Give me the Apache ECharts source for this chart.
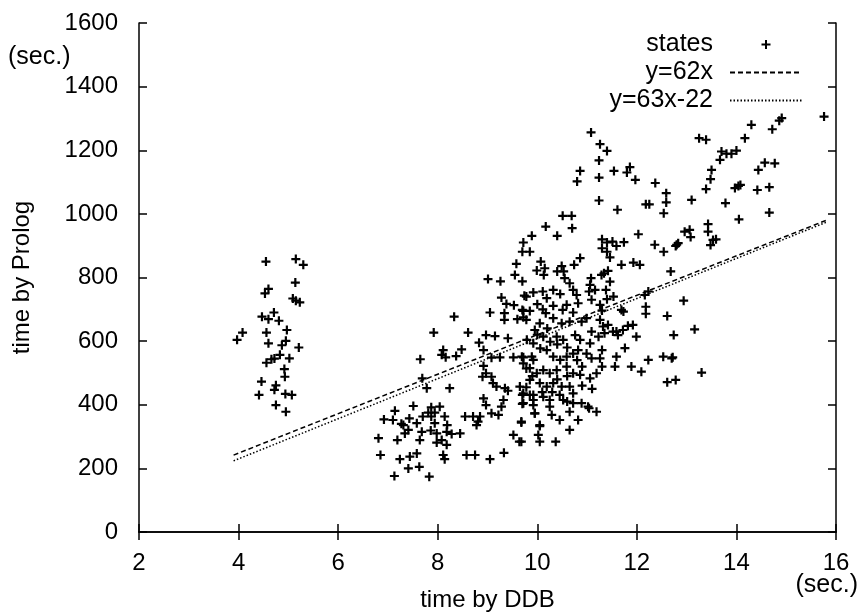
<!DOCTYPE html>
<html><head><meta charset="utf-8">
<script src="https://cdn.jsdelivr.net/npm/echarts@6/dist/echarts.min.js"></script>
<style>html,body{margin:0;padding:0;background:#fff}#c{width:860px;height:612px}</style>
</head><body><div id="c"></div><script>
// time by DDB (sec.) / time by Prolog (sec.) for each state
const ddbTime = [
4.55,5.15,5.30,5.14,4.60,4.53,5.09,5.15,5.23,4.47,4.60,4.71,4.81,4.97,4.56,4.08,3.97,4.60,4.87,4.95,5.21,4.56,4.66,4.72,4.83,5.02,4.92,4.93,4.46,4.75,4.72,4.41,4.94,5.07,4.75,4.95,
9.89,9.72,9.70,9.85,9.58,9.55,9.70,9.01,9.26,9.28,9.38,9.53,9.74,9.92,9.72,9.85,9.05,9.34,9.34,9.60,9.78,8.33,7.92,8.61,8.97,9.15,9.41,8.83,8.92,8.11,8.08,8.16,8.37,8.48,7.65,9.08,9.25,9.52,9.72,9.78,9.92,8.92,8.97,8.90,9.08,9.11,9.18,9.35,9.41,7.69,7.78,8.24,9.65,9.78,9.85,9.70,9.92,8.92,8.97,9.08,9.22,9.28,9.32,9.70,9.95,7.14,7.51,7.10,6.92,7.87,8.04,7.81,7.94,7.70,7.43,7.31,7.41,7.58,7.68,7.64,7.27,7.19,6.81,7.34,7.87,7.94,7.86,7.98,8.14,8.19,8.18,8.28,8.45,8.55,8.71,8.81,8.78,8.85,8.08,8.18,7.98,8.11,8.14,8.58,8.75,9.05,9.33,6.85,7.24,7.44,7.58,7.41,7.63,7.13,7.83,9.52,9.64,9.68,
11.08,11.26,11.40,11.24,10.86,10.80,11.24,11.54,11.80,11.86,11.97,12.37,12.59,12.59,12.54,12.18,12.25,11.24,11.61,10.51,10.69,10.70,10.17,10.40,11.30,11.40,11.51,11.59,11.74,11.30,11.40,11.46,12.03,12.36,12.54,12.80,10.07,10.15,9.99,10.13,10.49,10.53,10.40,10.55,10.74,10.86,9.78,9.70,11.34,11.42,11.29,11.46,11.69,11.93,12.06,12.68,10.65,10.72,11.08,11.06,11.04,11.16,11.38,11.40,11.09,10.11,10.19,10.32,10.46,10.00,10.11,10.17,10.32,10.51,10.59,10.72,10.79,10.82,11.26,11.30,11.69,11.73,11.53,12.16,12.23,12.18,12.18,12.61,12.74,9.72,10.99,10.89,10.65,10.49,10.32,10.05,9.95,11.26,11.32,11.42,11.35,11.52,11.59,11.72,11.82,11.92,11.99,11.62,11.09,11.23,11.06,10.86,10.76,10.52,10.39,10.26,10.12,9.92,9.79,9.69,9.89,10.06,10.19,10.32,10.46,10.59,10.72,10.82,10.99,11.09,11.30,11.26,11.30,11.59,11.76,11.56,11.89,12.09,12.23,12.53,12.70,12.61,
9.72,9.85,9.99,10.12,10.25,10.39,10.59,10.72,10.86,11.06,11.19,9.85,10.05,10.19,10.32,10.49,10.65,9.72,9.92,10.12,10.25,10.45,10.72,9.72,9.92,10.25,10.52,10.72,10.89,11.02,11.19,9.95,10.29,10.45,10.65,10.82,9.68,10.05,10.65,10.02,10.05,10.37,9.68,11.04,10.05,
10.00,10.20,10.40,10.60,10.80,10.40,10.60,10.90,9.90,10.10,10.30,10.60,10.90,11.10,
15.76,14.91,14.86,14.72,14.30,14.17,13.25,13.39,13.70,13.80,13.90,14.00,13.67,13.50,13.48,13.39,14.44,14.57,14.77,14.42,14.66,13.97,14.04,14.08,13.78,14.05,14.66,13.10,13.06,13.08,12.96,12.83,12.78,13.43,13.43,13.53,13.59,13.48,12.94,13.16,12.72,13.30,12.78
];
const prologTime = [
850,858,840,784,764,750,734,727,722,677,669,690,664,635,627,627,604,593,587,601,580,532,543,545,557,546,512,488,473,461,447,431,434,431,399,378,
931,910,881,881,843,808,788,795,788,737,717,713,743,753,695,695,690,688,667,669,667,677,627,627,619,616,609,595,572,572,557,549,553,574,543,548,549,549,549,514,541,522,499,488,488,468,457,452,444,483,452,452,457,455,431,431,415,420,399,373,368,394,415,403,373,381,396,352,354,392,394,375,375,363,357,336,321,342,315,289,340,289,295,310,363,342,319,310,363,336,315,308,310,363,363,347,336,363,289,274,281,242,229,242,242,229,249,242,229,237,247,200,205,176,174,305,284,344,
1256,1219,1198,1168,1135,1102,1114,1135,1130,1147,1107,1097,1065,1036,1002,1030,1030,1042,1013,994,994,955,960,931,920,910,913,899,911,892,881,863,936,903,881,903,850,829,822,808,836,819,819,798,840,861,740,698,813,821,808,787,840,847,840,819,782,761,798,777,756,761,761,732,730,756,735,761,748,716,700,688,711,698,714,690,745,719,714,696,698,693,740,745,756,708,686,679,619,675,672,661,661,656,672,656,635,667,646,651,625,630,630,635,648,651,614,619,630,614,593,604,619,604,614,598,614,593,604,551,551,577,572,551,541,551,561,572,561,546,572,546,520,551,578,520,520,504,541,551,546,471,
530,515,499,509,499,509,520,499,494,483,499,478,468,457,468,457,457,436,431,425,415,431,436,405,399,394,415,405,405,394,378,373,368,352,378,352,347,336,321,305,284,284,284,389,333,
620,640,590,580,540,480,490,520,490,440,440,410,460,450,
1306,1301,1293,1266,1280,1238,1238,1233,1196,1189,1189,1199,1170,1138,1109,1078,1138,1161,1159,1075,1084,1081,1088,1091,1034,983,1004,1044,950,927,944,908,899,968,944,918,920,902,727,637,549,501,478
];
const seriesName = 'states';
const fitNames = ['y=62x', 'y=63x-22'];
const fitSlope = [62, 63];
const fitIntercept = [0, -22];
const fitXRange = [3.9, 15.8];
const fitDash = [[5, 3], [1.5, 2]];

const FONT = '"Liberation Sans", Arial, sans-serif';
const ink = '#000';

const points = ddbTime.map((x, i) => [x, prologTime[i]]);
const fitSeries = fitNames.map((name, k) => ({
  name: name,
  type: 'line',
  symbol: 'none',
  color: ink,
  silent: true,
  data: fitXRange.map(x => [x, fitSlope[k] * x + fitIntercept[k]]),
  lineStyle: { color: ink, width: 1.5, type: fitDash[k] },
  z: 3
}));

const tickStyle = { show: true, inside: true, length: 8, lineStyle: { color: ink, width: 1.5 } };
const lineStyle = { show: true, lineStyle: { color: ink, width: 1.5 } };
const labelStyle = { color: ink, fontSize: 24, fontFamily: FONT };
const plain = v => String(v);

const chart = echarts.init(document.getElementById('c'), null, { renderer: 'canvas' });
chart.setOption({
  animation: false,
  backgroundColor: '#fff',
  grid: { left: 139, right: 24, top: 23, bottom: 80, containLabel: false, outerBoundsMode: 'none' },
  legend: {
    orient: 'vertical',
    right: 57,
    top: 32,
    padding: 0,
    align: 'right',
    itemWidth: 72,
    itemHeight: 9,
    itemGap: 3,
    selectedMode: false,
    textStyle: { color: ink, fontSize: 25, fontFamily: FONT, padding: [0, 12, 0, 0] },
    data: [
      { name: seriesName },
      { name: fitNames[0], itemStyle: { opacity: 0 } },
      { name: fitNames[1], itemStyle: { opacity: 0 } }
    ]
  },
  xAxis: [
    { type: 'value', min: 2, max: 16, interval: 2, position: 'bottom',
      axisLine: lineStyle, axisTick: tickStyle, splitLine: { show: false },
      axisLabel: Object.assign({ margin: 19, formatter: plain }, labelStyle),
      name: 'time by DDB', nameLocation: 'middle', nameGap: 56,
      nameTextStyle: labelStyle },
    { type: 'value', min: 2, max: 16, interval: 2, position: 'top',
      axisLine: lineStyle, axisTick: tickStyle, splitLine: { show: false },
      axisLabel: { show: false } }
  ],
  yAxis: [
    { type: 'value', min: 0, max: 1600, interval: 200, position: 'left',
      axisLine: lineStyle, axisTick: tickStyle, splitLine: { show: false },
      axisLabel: Object.assign({ margin: 21, formatter: plain }, labelStyle),
      name: 'time by Prolog', nameLocation: 'middle', nameGap: 105, nameRotate: 90,
      nameTextStyle: labelStyle },
    { type: 'value', min: 0, max: 1600, interval: 200, position: 'right',
      axisLine: lineStyle, axisTick: tickStyle, splitLine: { show: false },
      axisLabel: { show: false } }
  ],
  graphic: [
    { type: 'text', left: 8, top: 45, style: { text: '(sec.)', fill: ink, fontSize: 25, fontFamily: FONT } },
    { type: 'text', right: 2, top: 573, style: { text: '(sec.)', fill: ink, fontSize: 25, fontFamily: FONT } }
  ],
  series: [
    {
      name: seriesName,
      type: 'scatter',
      data: points,
      symbol: 'path://M0,5L10,5M5,0L5,10',
      symbolSize: 9,
      itemStyle: { color: 'transparent', borderColor: ink, borderWidth: 2.2, opacity: 1 },
      emphasis: { disabled: true },
      z: 4
    }
  ].concat(fitSeries)
});
</script></body></html>
